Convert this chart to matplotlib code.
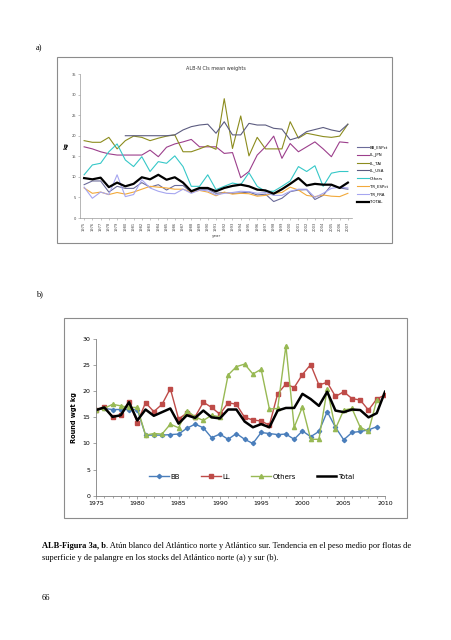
import numpy as np
import matplotlib
matplotlib.use("Agg")
import matplotlib.pyplot as plt
from matplotlib.patches import Rectangle

W, H = 452, 640

# ---- panel a: North Atlantic, mean weights by fleet ----
years_a = list(range(1975, 2008))
bb_espct = [8.1, 9.0, 9.0, 6.3, 7.7, 7.2, 7.2, 8.6, 7.5, 8.1, 6.8, 7.9, 7.9, 6.2, 7.0, 7.0, 6.0,
            6.2, 6.0, 6.1, 6.3, 5.6, 5.8, 4.0, 4.8, 6.4, 6.8, 6.9, 4.5, 5.5, 8.0, 7.3, 7.0]
ll_jpn = [17.3, 16.8, 16.1, 15.6, 15.3, 15.3, 15.3, 15.3, 16.5, 14.9, 17.2, 18.0, 18.5, 19.1, 17.3, 17.3, 17.3,
          15.7, 15.9, 9.8, 11.3, 15.3, 17.3, 19.9, 14.5, 18.1, 16.1, 17.3, 18.5, 16.8, 14.9, 18.5, 18.3]
ll_tai = [18.8, 18.4, 18.4, 19.6, 16.8, 18.8, 19.9, 19.6, 18.8, 19.4, 19.9, 20.2, 16.1, 16.1, 16.8, 17.6, 16.7,
          29.0, 16.9, 24.8, 15.1, 19.6, 16.8, 16.8, 16.8, 23.4, 19.4, 20.6, 20.2, 19.8, 19.6, 19.9, 22.8]
ll_usa = [None, None, None, None, None, 20.0, 20.0, 20.0, 20.0, 20.0, 20.0, 20.2, 21.4, 22.2, 22.6, 22.8, 20.6,
          23.4, 20.2, 20.2, 23.0, 22.6, 22.6, 21.8, 21.6, 19.0, 19.6, 21.0, 21.5, 22.0, 21.4, 21.0, 22.8]
others_a = [10.5, 12.9, 13.3, 16.1, 18.0, 14.1, 12.5, 14.9, 11.3, 13.7, 13.3, 15.1, 12.5, 7.7, 7.7, 10.5, 6.9,
            7.7, 8.5, 8.1, 11.0, 7.7, 6.5, 6.5, 7.7, 9.0, 12.5, 11.3, 12.7, 7.7, 10.9, 11.3, 11.3]
tr_espct = [7.3, 6.0, 6.3, 5.7, 6.2, 5.8, 6.3, 7.0, 7.7, 7.5, 7.3, 7.0, 7.0, 6.3, 6.7, 6.3, 5.4,
            6.3, 5.8, 6.0, 5.9, 5.3, 5.5, 6.0, 6.2, 7.5, 6.8, 5.5, 5.2, 5.6, 5.3, 5.2, 6.0]
tr_fra = [7.5, 4.8, 6.3, 5.7, 10.5, 5.2, 5.7, 9.3, 7.3, 6.5, 6.0, 5.9, 7.0, 6.0, 6.8, 6.6, 5.6,
          6.0, 6.2, 6.5, 6.4, 6.0, 6.2, 5.5, 5.5, 6.5, 7.0, 7.0, 5.0, 6.0, 7.2, 7.5, 7.3]
total_a = [9.7, 9.4, 9.8, 7.5, 8.6, 7.7, 8.3, 9.9, 9.4, 10.5, 9.3, 9.9, 8.6, 6.5, 7.3, 7.3, 6.5,
           7.3, 7.8, 8.1, 7.7, 6.9, 6.7, 5.9, 7.0, 8.3, 9.7, 7.9, 8.3, 8.1, 8.1, 7.3, 8.6]

# ---- panel b: South Atlantic ----
years_b = list(range(1975, 2011))
bb = [16.5, 16.7, 16.5, 16.5, 16.5, 16.5, 11.6, 11.6, 11.6, 11.7, 11.8, 12.9, 13.7, 13.0, 11.1, 11.8, 10.8,
      11.9, 10.8, 10.0, 12.1, 11.9, 11.7, 11.8, 10.8, 12.4, 11.3, 12.3, 16.1, 13.1, 10.7, 12.1, 12.3, 12.6,
      13.2, None]
ll = [16.5, 16.9, 15.1, 15.4, 18.0, 14.0, 17.8, 16.1, 17.5, 20.5, 14.7, 15.8, 15.1, 17.9, 16.9, 15.6, 17.8,
      17.5, 15.0, 14.5, 14.3, 13.5, 19.5, 21.4, 20.7, 23.2, 25.1, 21.2, 21.7, 19.0, 19.9, 18.6, 18.3, 16.4,
      18.5, 19.3]
others_b = [16.4, 16.7, 17.5, 17.2, 16.9, 16.9, 11.6, 11.9, 11.8, 13.7, 13.0, 16.3, 15.1, 14.4, 15.4, 15.1, 23.1,
            24.7, 25.2, 23.3, 24.2, 16.6, 16.7, 28.7, 13.1, 17.0, 10.8, 10.8, 20.4, 12.8, 16.4, 16.7, 13.1,
            12.3, 18.3, None]
total_b = [16.4, 16.9, 15.1, 15.4, 17.9, 14.4, 16.5, 15.3, 16.0, 16.7, 13.8, 15.4, 14.9, 16.3, 15.0, 14.8, 16.5,
           16.5, 14.2, 13.1, 13.7, 13.1, 16.3, 16.8, 16.8, 19.5, 18.5, 17.2, 19.9, 16.3, 16.0, 16.5, 16.4,
           15.0, 15.8, 19.9]


def arr(v):
    return np.array([np.nan if x is None else x for x in v], dtype=float)


def box(x0, y0, x1, y1):
    # pixel box (top-left origin) -> figure fraction
    return [x0 / W, 1 - y1 / H, (x1 - x0) / W, (y1 - y0) / H]


fig = plt.figure(figsize=(W / 100, H / 100), dpi=100)
serif = "Liberation Serif"

# chart frames
for x0, y0, x1, y1 in [(57, 57, 392, 243), (64, 318, 407, 518)]:
    fig.patches.append(Rectangle((x0 / W, 1 - y1 / H), (x1 - x0) / W, (y1 - y0) / H,
                                 transform=fig.transFigure, fill=False, ec="#8c8c8c", lw=0.8))

fig.text(36 / W, 1 - 50 / H, "a)", family=serif, fontsize=6)
fig.text(36 / W, 1 - 296 / H, "b)", family=serif, fontsize=6)

# panel a
ax = fig.add_axes(box(80, 74, 352, 218))
series_a = [
    ("BB_ESPct", bb_espct, "#6b6b99", 0.8),
    ("LL_JPN", ll_jpn, "#9c3f8c", 0.8),
    ("LL_TAI", ll_tai, "#8c8c1e", 0.8),
    ("LL_USA", ll_usa, "#5c5c80", 0.8),
    ("Others", others_a, "#36c8c8", 0.8),
    ("TR_ESPct", tr_espct, "#f2a93b", 0.8),
    ("TR_FRA", tr_fra, "#a6a6f0", 0.8),
    ("TOTAL", total_a, "black", 1.6),
]
for name, vals, col, lw in series_a:
    ax.plot(years_a, arr(vals), color=col, lw=lw, label=name)
ax.set_xlim(1974.5, 2007.5)
ax.set_ylim(0, 35)
ax.set_yticks(range(0, 36, 5))
ax.set_xticks(years_a)
ax.set_xticklabels([str(y) for y in years_a], rotation=90)
ax.tick_params(labelsize=2.6, length=1.5, width=0.4, color="#999999", pad=1, labelcolor="#444444")
for s in ["top", "right"]:
    ax.spines[s].set_visible(False)
for s in ["left", "bottom"]:
    ax.spines[s].set_color("#999999")
    ax.spines[s].set_linewidth(0.5)
ax.set_xlabel("year", fontsize=3, labelpad=2, color="#444444")
ax.set_ylabel("kg", fontsize=3.5, labelpad=2, fontweight="bold")
ax.set_title("ALB-N Cls mean weights", fontsize=3.5, pad=3, color="#333333")
ax.legend(loc="center left", bbox_to_anchor=(1.005, 0.3), frameon=False, fontsize=2.8,
          handlelength=3.0, labelspacing=1.0, handletextpad=0.3)

# panel b
bx = fig.add_axes(box(96, 339, 385, 495.7))
bx.plot(years_b, arr(bb), color="#4a7ebb", lw=1, marker="D", ms=2.2, label="BB")
bx.plot(years_b, arr(ll), color="#be4b48", lw=1, marker="s", ms=2.8, label="LL")
bx.plot(years_b, arr(others_b), color="#98b954", lw=1, marker="^", ms=3.0, label="Others")
bx.plot(years_b, arr(total_b), color="black", lw=1.8, label="Total")
bx.set_xlim(1975, 2010)
bx.set_ylim(0, 30)
bx.set_yticks(range(0, 31, 5))
bx.set_xticks(range(1975, 2011, 5))
bx.set_xticks(years_b, minor=True)
bx.tick_params(labelsize=4.5, length=2.5, width=0.5, color="#808080", pad=1.5)
bx.tick_params(which="minor", length=1.5, width=0.5, color="#808080")
for s in ["top", "right"]:
    bx.spines[s].set_visible(False)
for s in ["left", "bottom"]:
    bx.spines[s].set_color("#808080")
    bx.spines[s].set_linewidth(0.6)
bx.set_ylabel("Round wgt kg", fontsize=4.8, fontweight="bold", labelpad=4)
bx.legend(loc="center", bbox_to_anchor=(0.54, 0.12), ncol=4, frameon=False, fontsize=5,
          handlelength=2.8, columnspacing=3.0, handletextpad=0.3)

# caption
y1 = 1 - 548 / H
t1 = fig.text(42 / W, y1, "ALB-Figura 3a, b", family=serif, fontweight="bold", fontsize=6.0)
fig.canvas.draw()
bbx = t1.get_window_extent()
fig.text(bbx.x1 / fig.bbox.width, y1,
         ". Atún blanco del Atlántico norte y Atlántico sur. Tendencia en el peso medio por flotas de",
         family=serif, fontsize=6.0)
fig.text(42 / W, 1 - 560 / H,
         "superficie y de palangre en los stocks del Atlántico norte (a) y sur (b).",
         family=serif, fontsize=6.0)
fig.text(42 / W, 1 - 600 / H, "66", family=serif, fontsize=6.0)

fig.savefig("out.png", dpi=100)
